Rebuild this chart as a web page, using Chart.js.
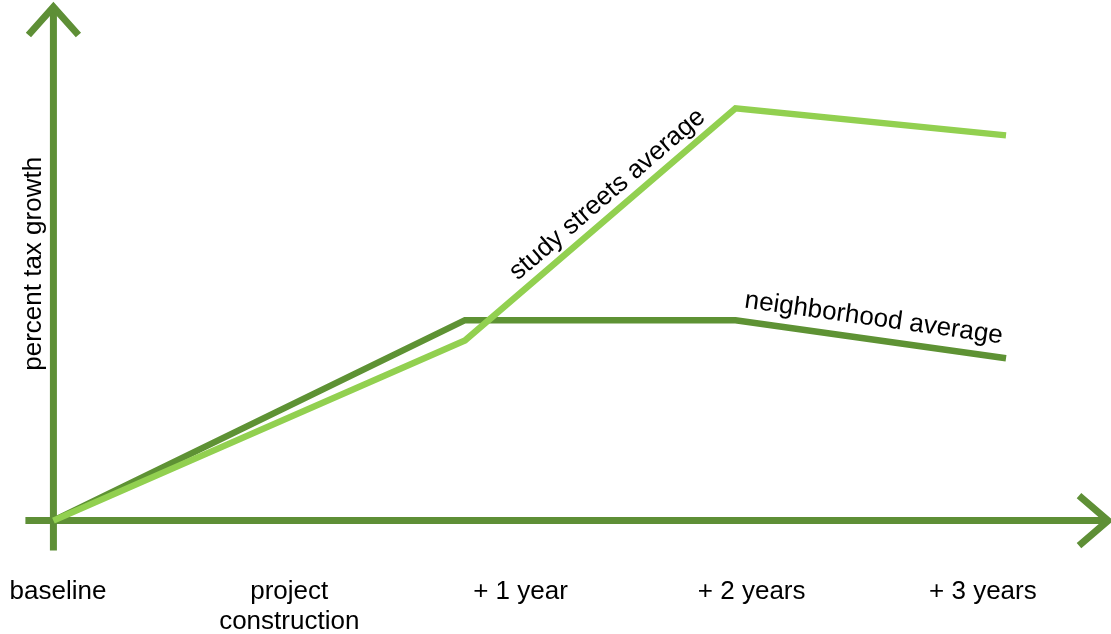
<!DOCTYPE html>
<html>
<head>
<meta charset="utf-8">
<script src="https://cdn.jsdelivr.net/npm/chart.js@4"></script>
<style>
  html, body { margin: 0; padding: 0; background: #fff; }
  #wrap { width: 1111px; height: 634px; position: relative; }
</style>
</head>
<body>
<div id="wrap"><canvas id="chart"></canvas></div>
<script>
// data (y in arbitrary "percent growth" units, 0 = baseline)
const CATEGORIES = ['baseline', ['project', 'construction'], '+ 1 year', '+ 2 years', '+ 3 years'];
const CAT_POS = [0, 1, 2, 3, 4];
const POINT_X = [-0.02, 1.76, 2.93, 4.10];
const STUDY = [0, 34.6, 79.2, 74.0];
const NEIGHBORHOOD = [0, 38.5, 38.5, 31.2];
const SERIES_NAMES = ['study streets average', 'neighborhood average'];
const Y_TITLE = 'percent tax growth';

const AXIS_COLOR = '#5e8f36';
const DARK = '#5e9234';
const LIGHT = '#92d050';
const FONT = '"Liberation Sans", Arial, sans-serif';

function toPoints(ys) {
  return ys.map((v, i) => ({ x: POINT_X[i], y: v }));
}

// axes with open arrow heads + y title
const axesPlugin = {
  id: 'axes',
  beforeDatasetsDraw(chart) {
    const { ctx, chartArea, scales: { x, y } } = chart;
    const ox = x.getPixelForValue(POINT_X[0]);
    const oy = y.getPixelForValue(0);
    const topY = 7;
    const rightX = chartArea.right - 3;
    ctx.save();
    ctx.strokeStyle = AXIS_COLOR;
    ctx.lineWidth = 7;
    ctx.lineJoin = 'miter';
    ctx.beginPath();
    ctx.moveTo(ox, oy + 30);
    ctx.lineTo(ox, topY);
    ctx.moveTo(ox - 28, oy);
    ctx.lineTo(rightX, oy);
    ctx.stroke();
    // arrow heads
    ctx.beginPath();
    ctx.moveTo(ox - 25, topY + 28);
    ctx.lineTo(ox, topY);
    ctx.lineTo(ox + 25, topY + 28);
    ctx.moveTo(rightX - 29, oy - 25);
    ctx.lineTo(rightX, oy);
    ctx.lineTo(rightX - 29, oy + 25);
    ctx.stroke();
    // y title
    ctx.translate(ox - 20, (oy + topY) / 2);
    ctx.rotate(-Math.PI / 2);
    ctx.fillStyle = '#000';
    ctx.font = '26px ' + FONT;
    ctx.textAlign = 'center';
    ctx.textBaseline = 'middle';
    ctx.fillText(Y_TITLE, 0, 0);
    ctx.restore();
  }
};

// series names written along a segment of their line
const LABEL_SPOTS = [
  { ds: 0, seg: 1, t: 0.57, off: 18 },
  { ds: 1, seg: 2, t: 0.5, off: 21 }
];
const seriesLabels = {
  id: 'seriesLabels',
  afterDatasetsDraw(chart) {
    const { ctx } = chart;
    ctx.save();
    ctx.fillStyle = '#000';
    ctx.font = '26px ' + FONT;
    ctx.textAlign = 'center';
    ctx.textBaseline = 'middle';
    LABEL_SPOTS.forEach(s => {
      const pts = chart.getDatasetMeta(s.ds).data;
      const a = pts[s.seg], b = pts[s.seg + 1];
      const ang = Math.atan2(b.y - a.y, b.x - a.x);
      const px = a.x + (b.x - a.x) * s.t + Math.sin(ang) * s.off;
      const py = a.y + (b.y - a.y) * s.t - Math.cos(ang) * s.off;
      ctx.save();
      ctx.translate(px, py);
      ctx.rotate(ang);
      ctx.fillText(chart.data.datasets[s.ds].label, 0, 0);
      ctx.restore();
    });
    ctx.restore();
  }
};

new Chart(document.getElementById('chart'), {
  type: 'line',
  data: {
    datasets: [
      { label: SERIES_NAMES[0], data: toPoints(STUDY), borderColor: LIGHT, borderWidth: 6.5, pointRadius: 0, borderJoinStyle: 'miter', tension: 0 },
      { label: SERIES_NAMES[1], data: toPoints(NEIGHBORHOOD), borderColor: DARK, borderWidth: 6.5, pointRadius: 0, borderJoinStyle: 'miter', tension: 0 }
    ]
  },
  options: {
    responsive: true,
    maintainAspectRatio: false,
    animation: false,
    layout: { padding: { top: 0, left: 0, right: 0, bottom: -7 } },
    plugins: { legend: { display: false }, tooltip: { enabled: false } },
    scales: {
      x: {
        type: 'linear',
        min: -0.251,
        max: 4.554,
        grid: { display: false, drawTicks: false },
        border: { display: false },
        afterBuildTicks: s => { s.ticks = CAT_POS.map(v => ({ value: v })); },
        ticks: {
          padding: 4,
          maxRotation: 0,
          autoSkip: false,
          color: '#000',
          font: { family: FONT, size: 26, lineHeight: 1.15 },
          callback: (v, i) => CATEGORIES[i]
        }
      },
      y: {
        display: false,
        min: -10.1,
        max: 100
      }
    }
  },
  plugins: [axesPlugin, seriesLabels]
});
</script>
</body>
</html>
